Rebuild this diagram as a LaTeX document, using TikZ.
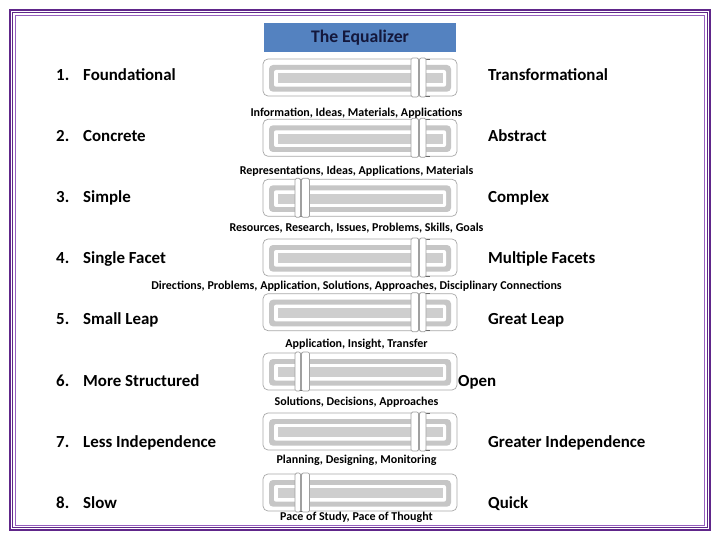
\documentclass[tikz,border=0pt]{standalone}
\usepackage{fontspec}
\setmainfont{Carlito}
\definecolor{frameP}{RGB}{96,38,138}
\definecolor{frameL}{RGB}{150,95,190}
\definecolor{titleblue}{RGB}{84,130,192}
\definecolor{titletext}{RGB}{20,24,60}
\definecolor{grooveband}{RGB}{198,198,198}
\definecolor{grooveinner}{RGB}{206,206,206}
\definecolor{slideredge}{RGB}{168,168,168}
\definecolor{knobedge}{RGB}{160,160,160}
\definecolor{tickdark}{RGB}{105,105,105}
\tikzset{
  lbl/.style={font=\fontsize{16.9}{19}\selectfont\bfseries, inner sep=0pt, anchor=base west},
  sublbl/.style={font=\fontsize{12}{14}\selectfont\bfseries, inner sep=0pt, anchor=base},
  sliderbox/.style={draw=slideredge, fill=white, line width=0.7pt, rounded corners=5pt,
    minimum width=194pt, minimum height=37pt, inner sep=0pt},
  knobbar/.style={draw=knobedge, fill=white, line width=0.7pt, rounded corners=1.5pt},
  knobtick/.style={draw=tickdark, line width=0.7pt},
}
% #1 name, #2 top y, #3 #4 first bar, #5 #6 second bar, #7 #8 tick x range
\newcommand\EqSlider[8]{%
  \node[sliderbox] (#1) at (360,#2+18.5) {};
  \fill[grooveband, rounded corners=4pt] (269,#2+6) rectangle (451,#2+32.7);
  \fill[white, rounded corners=2pt] (274,#2+11) rectangle (446,#2+27.7);
  \fill[grooveinner] (277.5,#2+14.3) rectangle (442.5,#2+24.4);
  \draw[knobtick] (#7,#2) -- (#8,#2);
  \draw[knobtick] (#7,#2+37) -- (#8,#2+37);
  \draw[knobbar] (#3,#2-1) rectangle (#4,#2+38);
  \draw[knobbar] (#5,#2-1) rectangle (#6,#2+38);
}
\newcommand\RightKnobSlider[2]{\EqSlider{#1}{#2}{411}{418.5}{419.5}{426}{425}{430}}
\newcommand\LeftKnobSlider[2]{\EqSlider{#1}{#2}{295}{300.5}{301.5}{309.5}{298}{302}}
\begin{document}
\begin{tikzpicture}[x=1pt,y=-1pt]
\useasboundingbox (0,0) rectangle (720,540);
% frame
\draw[frameP, line width=1.6pt] (10,10) rectangle (710,530.2);
\draw[frameP, line width=1pt] (12.8,12.8) rectangle (707.2,527.5);
\draw[frameL, line width=0.8pt] (15.3,15.3) rectangle (704.8,525);
% title
\node[fill=titleblue, minimum width=192pt, minimum height=29pt, inner sep=0pt,
  font=\fontsize{17.7}{20}\selectfont\bfseries, text=titletext] (title) at (360,38) {The Equalizer};
% sliders
\RightKnobSlider{s1}{59}
\RightKnobSlider{s2}{119.3}
\LeftKnobSlider{s3}{179.3}
\RightKnobSlider{s4}{239}
\RightKnobSlider{s5}{293.7}
\LeftKnobSlider{s6}{353}
\RightKnobSlider{s7}{413}
\LeftKnobSlider{s8}{474}
% left labels
\node[lbl] (n1) at (56,80.3) {1.};   \node[lbl] (l1) at (83,80.3) {Foundational};
\node[lbl] (n2) at (56,141.4) {2.}; \node[lbl] (l2) at (83,141.4) {Concrete};
\node[lbl] (n3) at (56,202.6) {3.}; \node[lbl] (l3) at (83,202.6) {Simple};
\node[lbl] (n4) at (56,263.7) {4.}; \node[lbl] (l4) at (83,263.7) {Single Facet};
\node[lbl] (n5) at (56,324.9) {5.}; \node[lbl] (l5) at (83,324.9) {Small Leap};
\node[lbl] (n6) at (56,386) {6.}; \node[lbl] (l6) at (83,386) {More Structured};
\node[lbl] (n7) at (56,447.1) {7.}; \node[lbl] (l7) at (83,447.1) {Less Independence};
\node[lbl] (n8) at (56,508.3) {8.};   \node[lbl] (l8) at (83,508.3) {Slow};
% right labels
\node[lbl] (r1) at (488,80.3) {Transformational};
\node[lbl] (r2) at (488,141.4) {Abstract};
\node[lbl] (r3) at (488,202.6) {Complex};
\node[lbl] (r4) at (488,263.7) {Multiple Facets};
\node[lbl] (r5) at (488,324.9) {Great Leap};
\node[lbl] (r6) at (458,386) {Open};
\node[lbl] (r7) at (488,447.1) {Greater Independence};
\node[lbl] (r8) at (488,508.3) {Quick};
% sub labels
\node[sublbl] (d1) at (356.5,116.2) {Information, Ideas, Materials, Applications};
\node[sublbl] (d2) at (356.5,174.2) {Representations, Ideas, Applications, Materials};
\node[sublbl] (d3) at (356.5,232) {Resources, Research, Issues, Problems, Skills, Goals};
\node[sublbl] (d4) at (356.5,289.2) {Directions, Problems, Application, Solutions, Approaches, Disciplinary Connections};
\node[sublbl] (d5) at (356.5,347.2) {Application, Insight, Transfer};
\node[sublbl] (d6) at (356.5,405.2) {Solutions, Decisions, Approaches};
\node[sublbl] (d7) at (356.5,463) {Planning, Designing, Monitoring};
\node[sublbl] (d8) at (356.5,520.2) {Pace of Study, Pace of Thought};
\end{tikzpicture}
\end{document}
